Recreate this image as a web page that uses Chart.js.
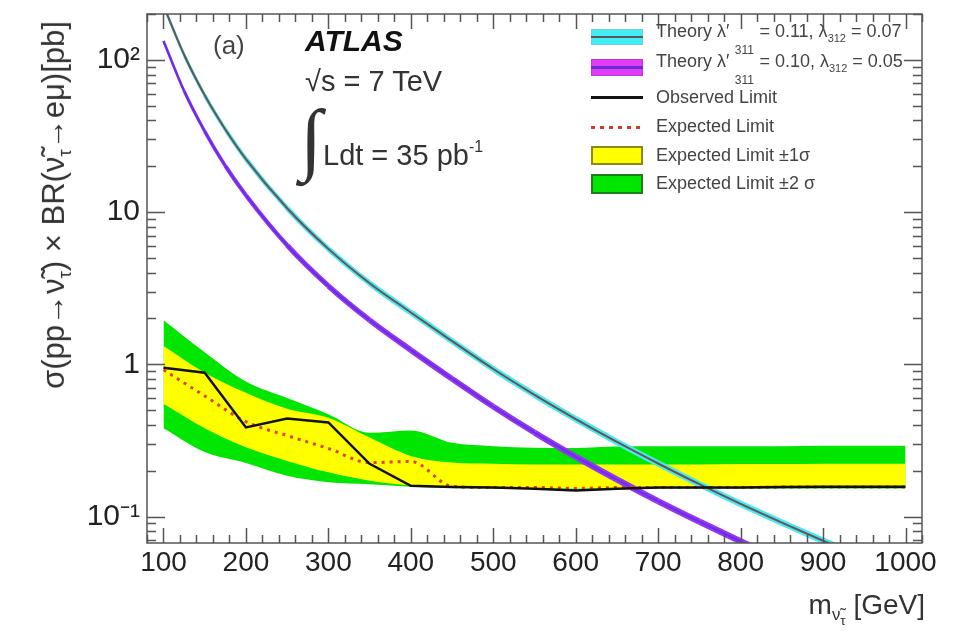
<!DOCTYPE html>
<html>
<head>
<meta charset="utf-8">
<script src="https://cdn.jsdelivr.net/npm/chart.js@4.4.1/dist/chart.umd.min.js"></script>
<style>
  html, body { margin: 0; padding: 0; background: #fff; }
  #wrap { position: relative; width: 953px; height: 635px; font-family: "Liberation Sans", Arial, sans-serif; color: #333; }
  #wrap canvas { position: absolute; left: 0; top: 0; }
  .txt { position: absolute; white-space: nowrap; line-height: 1; }
  .txt sub { font-size: 0.6em; vertical-align: -0.35em; }
  .leg { position: absolute; left: 656px; font-size: 18px; color: #444; white-space: nowrap; line-height: 1; }
  .leg sub { font-size: 11px; vertical-align: -5px; }
  .leg .d { display: inline-block; width: 30px; text-align: center; font-size: 12px; position: relative; top: 17px; }
  .sym { position: absolute; left: 591px; width: 52px; box-sizing: border-box; }
</style>
</head>
<body>
<div id="wrap">
  <canvas id="chart" width="953" height="635"></canvas>

  <div class="txt" style="left:213px;top:32px;font-size:26px;color:#444">(a)</div>
  <div class="txt" style="left:305px;top:26px;font-size:30px;font-weight:bold;font-style:italic;color:#111">ATLAS</div>
  <div class="txt" style="left:305px;top:67px;font-size:29px">√s = 7 TeV</div>
  <div class="txt" style="left:300px;top:98px;font-size:80px;font-family:'DejaVu Sans';font-weight:200">∫</div>
  <div class="txt" style="left:323px;top:141px;font-size:29px">Ldt = 35 pb<span style="font-size:16px;position:relative;top:-13px">-1</span></div>

  <div class="txt" id="ytitle" style="left:56px;top:205px;font-size:31px;transform:translate(-50%,-50%) rotate(-90deg)">σ(pp→ν̃<sub>τ</sub>) × BR(ν̃<sub>τ</sub>→eμ)[pb]</div>
  <div class="txt" style="right:28px;top:591px;font-size:28px">m<sub>ν̃<sub style="font-size:0.8em">τ</sub></sub> [GeV]</div>

  <div class="sym" style="top:29px;height:16px;background:#40eef5;border:1px solid #7cd"></div>
  <div class="sym" style="top:36px;height:2px;background:#5a5656"></div>
  <div class="sym" style="top:59px;height:17px;background:#e03cf5;border:1px solid #c3c"></div>
  <div class="sym" style="top:66px;height:3px;background:#6a2bd0"></div>
  <div class="sym" style="top:96px;height:3px;background:#111"></div>
  <div class="sym" style="top:126px;height:3px;background:repeating-linear-gradient(90deg,#d03a2a 0 4px,transparent 4px 9px)"></div>
  <div class="sym" style="top:146px;height:19px;background:#ffff00;border:2px solid #8a8a10"></div>
  <div class="sym" style="top:174px;height:20px;background:#00e600;border:2px solid #207a20"></div>

  <div class="leg" style="top:22px">Theory λ′<span class="d">311</span>= 0.11, λ<sub>312</sub> = 0.07</div>
  <div class="leg" style="top:52px">Theory λ′<span class="d">311</span>= 0.10, λ<sub>312</sub> = 0.05</div>
  <div class="leg" style="top:88px">Observed Limit</div>
  <div class="leg" style="top:117px">Expected Limit</div>
  <div class="leg" style="top:146px">Expected Limit ±1σ</div>
  <div class="leg" style="top:174px">Expected Limit ±2 σ</div>
</div>

<script>
// theory curves (pb) vs sneutrino mass (GeV)
const theoryMass = [100, 125, 150, 175, 200, 250, 300, 350, 400, 450, 500, 550, 600, 650, 700, 750, 800, 850, 900, 950, 1000];
const theoryA = [227, 108, 58.5, 34.9, 22.3, 10.6, 5.73, 3.41, 2.19, 1.42, 0.931, 0.630, 0.437, 0.309, 0.223, 0.163, 0.121, 0.0912, 0.0693, 0.0532, 0.0412];
const theoryB = [133, 62.5, 33.9, 20.1, 12.9, 6.05, 3.27, 1.95, 1.24, 0.803, 0.527, 0.356, 0.247, 0.175, 0.126, 0.0925, 0.0687, 0.0516, 0.0393, 0.0301, 0.0233];

// limits
const limitMass = [100, 150, 200, 250, 300, 350, 400, 450, 500, 550, 600, 650, 700, 750, 800, 850, 900, 950, 1000];
const observed = [0.95, 0.88, 0.385, 0.44, 0.415, 0.222, 0.159, 0.156, 0.155, 0.152, 0.148, 0.152, 0.155, 0.155, 0.155, 0.156, 0.157, 0.157, 0.157];
const expected = [0.92, 0.62, 0.42, 0.34, 0.28, 0.226, 0.23, 0.158, 0.155, 0.155, 0.153, 0.155, 0.155, 0.155, 0.155, 0.156, 0.156, 0.156, 0.156];
const plus1 = [1.32, 0.88, 0.65, 0.51, 0.445, 0.33, 0.25, 0.226, 0.222, 0.22, 0.22, 0.22, 0.22, 0.22, 0.221, 0.221, 0.222, 0.222, 0.222];
const minus1 = [0.55, 0.38, 0.285, 0.232, 0.195, 0.172, 0.16, 0.155, 0.154, 0.154, 0.154, 0.154, 0.154, 0.154, 0.154, 0.154, 0.154, 0.154, 0.154];
const plus2 = [1.95, 1.2, 0.77, 0.6, 0.47, 0.355, 0.368, 0.305, 0.29, 0.283, 0.282, 0.288, 0.29, 0.29, 0.29, 0.29, 0.292, 0.292, 0.292];
const minus2 = [0.38, 0.265, 0.225, 0.185, 0.168, 0.163, 0.157, 0.154, 0.153, 0.153, 0.153, 0.153, 0.153, 0.153, 0.153, 0.153, 0.153, 0.153, 0.153];

const xTicks = [100, 200, 300, 400, 500, 600, 700, 800, 900, 1000];
const yTicks = [0.1, 1, 10, 100];
const yTickLabels = ['10⁻¹', '1', '10', '10²'];

const pts = (xs, ys) => xs.map((x, i) => ({ x, y: ys[i] }));

const line = (data, color, width, order, extra) => Object.assign({
  data, borderColor: color, borderWidth: width, pointRadius: 0, fill: false,
  order, clip: 0, cubicInterpolationMode: 'monotone'
}, extra || {});

// theory bands have a fixed vertical width, so they look thinner where the curve is steep
const bandWidth = h => ({
  borderWidth: ctx => {
    const dx = ctx.p1.x - ctx.p0.x, dy = ctx.p1.y - ctx.p0.y;
    return Math.max(2, h * Math.abs(dx) / Math.hypot(dx, dy));
  }
});

// ROOT style frame with inward ticks on all four sides
const frameTicks = {
  id: 'frameTicks',
  afterDatasetsDraw(chart) {
    const { ctx, chartArea: a, scales: { x, y } } = chart;
    ctx.save();
    ctx.strokeStyle = '#555';
    ctx.lineWidth = 1.5;
    ctx.beginPath();
    for (let v = 80; v <= 1020; v += 20) {
      const px = Math.round(x.getPixelForValue(v)) + 0.5;
      const len = v % 100 === 0 ? 15 : 8;
      ctx.moveTo(px, a.bottom); ctx.lineTo(px, a.bottom - len);
      ctx.moveTo(px, a.top); ctx.lineTo(px, a.top + len);
    }
    for (let d = -2; d <= 2; d++) {
      for (let k = 1; k <= 9; k++) {
        const v = k * Math.pow(10, d);
        if (v < y.min || v > y.max) continue;
        const py = Math.round(y.getPixelForValue(v)) + 0.5;
        const len = k === 1 ? 18 : 9;
        ctx.moveTo(a.left, py); ctx.lineTo(a.left + len, py);
        ctx.moveTo(a.right, py); ctx.lineTo(a.right - len, py);
      }
    }
    ctx.stroke();
    ctx.strokeRect(a.left, a.top, a.right - a.left, a.bottom - a.top);
    ctx.restore();
  }
};

new Chart(document.getElementById('chart'), {
  type: 'line',
  data: {
    datasets: [
      line(pts(limitMass, plus2), 'rgba(0,0,0,0)', 0, 10, { fill: '+1', backgroundColor: '#00e600' }),
      line(pts(limitMass, minus2), 'rgba(0,0,0,0)', 0, 10),
      line(pts(limitMass, plus1), 'rgba(0,0,0,0)', 0, 9, { fill: '+1', backgroundColor: '#ffff00' }),
      line(pts(limitMass, minus1), 'rgba(0,0,0,0)', 0, 9),
      line(pts(theoryMass, theoryA), '#4ae8f2', 6, 6, { segment: bandWidth(7) }),
      line(pts(theoryMass, theoryA), '#665555', 2, 5),
      line(pts(theoryMass, theoryB), '#9834ee', 6, 4, { segment: bandWidth(7) }),
      line(pts(theoryMass, theoryB), '#6030ea', 1.8, 3),
      line(pts(limitMass, expected), '#e0401c', 3, 2, { borderDash: [3, 5] }),
      line(pts(limitMass, observed), '#111', 2.5, 1, { cubicInterpolationMode: 'default', tension: 0 })
    ]
  },
  options: {
    responsive: false,
    animation: false,
    events: [],
    layout: { padding: { top: 14, right: 31, left: 0, bottom: 0 } },
    plugins: { legend: { display: false }, tooltip: { enabled: false } },
    scales: {
      x: {
        type: 'linear', min: 80, max: 1020,
        grid: { display: false, drawTicks: false },
        border: { display: false },
        ticks: { autoSkip: false, maxRotation: 0, padding: 3, color: '#222',
          font: { family: 'Liberation Sans', size: 28 },
          callback: v => String(v) },
        afterBuildTicks: s => { s.ticks = xTicks.map(v => ({ value: v })); },
        afterFit: s => { s.height = 92; s.paddingLeft = 0; s.paddingRight = 0; }
      },
      y: {
        type: 'logarithmic', min: 0.067, max: 200,
        grid: { display: false, drawTicks: false },
        border: { display: false },
        ticks: { padding: 7, color: '#222', font: { family: 'Liberation Sans', size: 30 },
          callback: v => { const i = yTicks.indexOf(v); return i >= 0 ? yTickLabels[i] : ''; } },
        afterBuildTicks: s => { s.ticks = yTicks.map(v => ({ value: v })); },
        afterFit: s => { s.width = 147; s.paddingTop = 0; s.paddingBottom = 0; }
      }
    }
  },
  plugins: [frameTicks]
});
</script>
</body>
</html>
